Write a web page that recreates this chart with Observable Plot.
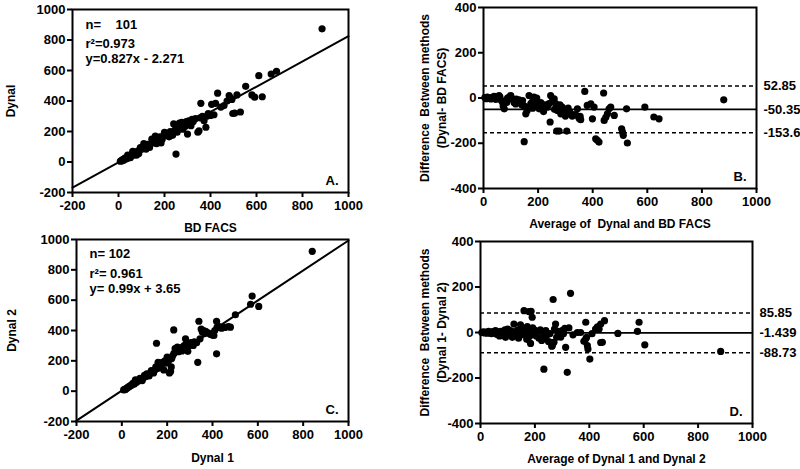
<!DOCTYPE html>
<html><head><meta charset="utf-8">
<script src="https://cdn.jsdelivr.net/npm/d3@7"></script>
<script src="https://cdn.jsdelivr.net/npm/@observablehq/plot@0.6"></script>
<style>
body{margin:0;background:#fff;}
#chart{position:relative;width:800px;height:469px;overflow:hidden;background:#fff;}
#chart svg{position:absolute;overflow:visible;}
</style></head><body><div id="chart"></div>
<script>
// ---------- tick values ----------
const ticksScatter = [-200, 0, 200, 400, 600, 800, 1000];
const ticksAvg = [0, 200, 400, 600, 800, 1000];
const ticksDiff = [-400, -200, 0, 200, 400];

// ---------- Panel A: BD FACS (x) vs Dynal (y) ----------
const pointsA = [
[8,5],[12,10],[15,8],[18,15],[22,12],[25,20],[28,25],[30,18],[33,28],[36,22],[40,45],[42,38],[45,35],[48,28],[52,30],[55,40],[58,50],[62,70],[65,45],[68,60],[72,58],[75,65],[78,45],[82,70],[85,62],[88,55],[92,80],[95,95],[98,90],[102,85],[105,100],[110,120],[115,105],[120,85],[125,115],[130,110],[135,95],[140,118],[145,150],[150,128],[155,145],[160,170],[165,120],[170,155],[175,160],[180,165],[185,125],[190,150],[195,170],[200,195],[205,190],[210,180],
[220,165],[225,200],[235,175],[240,250],[245,210],[250,52],[255,195],[260,230],[265,255],[270,240],[275,260],[280,215],[285,250],[290,235],[295,265],[300,183],[305,270],[310,250],[315,238],[320,280],[325,265],[335,285],[345,195],[350,205],[355,290],[358,385],[365,300],[372,270],[380,228],[385,300],[390,318],[400,305],[405,378],[415,310],[422,385],[431,451],[445,360],[459,370],[472,400],[481,436],[487,420],[493,410],[497,318],[505,320],[515,440],[530,328],[553,496],[580,440],[592,425],[610,566],[625,428],[664,577],[687,595],[885,873]
];
const fitA = {slope: 0.827, intercept: -2.271};
const statsA = ["n=\u00a0\u00a0\u00a0 101", "r\u00b2=0.973", "y=0.827x - 2.271"];

// ---------- Panel B: Bland-Altman Dynal vs BD FACS ----------
const pointsB = [
[5,2],[10,-3],[14,4],[18,-2],[22,0],[27,-4],[32,3],[39,7],[45,-6],[50,2],[57,11],[60,5],[63,-8],[68,-15],[72,-35],[76,-48],[82,-14],[85,-20],[88,0],[95,5],[100,11],[106,-4],[112,-20],[118,-26],[120,-5],[124,-12],[130,-8],[137,-22],[140,-30],[143,-11],[148,-35],[149,-193],[155,-40],[155,-70],[160,-55],[167,11],[173,-26],[178,-18],[180,-45],[185,4],[190,-10],[195,0],[198,-26],[204,-48],[210,-20],[216,-40],[220,-60],[225,-30],[234,-40],[240,-25],[244,-106],[246,11],[252,-15],[259,-4],[260,-50],[265,-26],[268,-146],[271,-55],[277,-146],[280,-30],[283,-70],[288,-40],[290,-65],[295,-55],[300,-80],[305,-146],[308,-70],[310,-45],[315,-60],[320,-70],[325,-80],[330,-75],[338,-75],[344,-48],[350,-90],[354,-81],[356,-96],[371,29],[380,-33],[393,-26],[399,-92],[405,-40],[411,-180],[417,-187],[423,-195],[440,22],[442,-99],[448,-85],[454,-70],[460,-48],[466,-40],[479,-77],[506,-136],[509,-150],[512,-165],[524,-48],[527,-199],[591,-40],[624,-84],[643,-92],[880,-8]
];
const biasB = [-50.35];
const limitsB = [52.85, -153.6];
const limitLabelsB = ["52.85", "-50.35", "-153.6"];
const limitValuesB = [52.85, -50.35, -153.6];

// ---------- Panel C: Dynal 1 (x) vs Dynal 2 (y) ----------
const pointsC = [
[8,8],[12,12],[15,10],[20,18],[25,22],[28,26],[32,30],[36,34],[40,38],[45,42],[48,50],[52,55],[55,48],[60,75],[65,58],[70,72],[75,68],[80,85],[85,80],[90,70],[95,88],[100,105],[105,95],[110,115],[115,108],[120,100],[125,118],[130,135],[135,128],[140,120],[145,140],[150,160],[153,316],[155,148],[160,190],[165,155],[170,185],[175,175],[180,190],[185,140],[190,200],[195,185],[200,225],[205,195],[210,120],[215,130],[218,160],[220,215],[225,235],[229,404],[230,250],[235,280],[240,270],[245,290],[250,260],[255,275],[260,285],[265,265],[270,290],[275,300],[281,345],[285,310],[291,263],[295,300],[300,305],[305,320],[310,315],[315,301],[320,325],[330,320],[335,190],[340,461],[345,345],[350,410],[355,390],[360,400],[365,380],[370,395],[380,385],[390,375],[400,370],[406,367],[410,400],[418,461],[418,246],[420,420],[430,425],[440,415],[455,420],[470,425],[479,422],[501,504],[568,573],[575,627],[604,559],[840,922]
];
const fitC = {slope: 0.99, intercept: 3.65};
const statsC = ["n= 102", "r\u00b2= 0.961", "y= 0.99x + 3.65"];

// ---------- Panel D: Bland-Altman Dynal 1 vs Dynal 2 ----------
const pointsD = [
[5,0],[10,3],[15,-2],[20,2],[25,-3],[30,5],[35,0],[40,-5],[45,4],[50,-2],[55,8],[60,-8],[65,3],[70,-15],[75,5],[80,0],[85,-10],[90,12],[92,-21],[98,-7],[100,15],[105,-5],[110,8],[117,-21],[120,3],[123,37],[128,-12],[135,10],[140,-25],[147,34],[150,-5],[155,15],[160,96],[160,-10],[166,11],[170,-30],[172,26],[175,5],[178,92],[180,-18],[184,-48],[186,93],[190,67],[192,20],[195,-8],[200,10],[205,-15],[210,5],[215,-25],[220,12],[225,-35],[230,0],[233,-161],[235,-20],[240,8],[245,-10],[250,-40],[255,-5],[258,-43],[262,-60],[264,-58],[267,145],[270,-43],[272,15],[276,37],[280,-21],[285,5],[290,-10],[295,-20],[300,8],[305,-5],[310,18],[313,-65],[319,-175],[325,20],[331,172],[340,-10],[356,0],[368,0],[380,-39],[387,45],[387,-28],[390,-21],[393,-58],[395,-73],[402,-117],[410,-5],[423,15],[430,25],[436,15],[442,37],[442,-44],[448,-43],[456,52],[505,-4],[577,5],[583,45],[604,-54],[883,-83]
];
const biasD = [-1.439];
const limitsD = [85.85, -88.73];
const limitLabelsD = ["85.85", "-1.439", "-88.73"];
const limitValuesD = [85.85, -1.439, -88.73];

// ---------- drawing ----------
const FONT = '"Liberation Sans", Arial, Helvetica, sans-serif';
const chart = document.getElementById("chart");
const toObj = arr => arr.map(([x, y]) => ({x, y}));

function panel(cfg) {
  const marks = [];
  if (cfg.fit) {
    const fitPts = cfg.xDomain.map(x => ({x, y: cfg.fit.slope * x + cfg.fit.intercept}));
    marks.push(Plot.line(fitPts, {x: "x", y: "y", stroke: "black", strokeWidth: 2}));
  }
  if (cfg.bias) {
    marks.push(Plot.ruleY(cfg.limits, {stroke: "black", strokeWidth: 1.6, strokeDasharray: "4,3"}));
    marks.push(Plot.ruleY(cfg.bias, {stroke: "black", strokeWidth: 1.8}));
    marks.push(Plot.text(cfg.limitValues, {y: d => d, frameAnchor: "right", textAnchor: "start", dx: 7,
      text: (d, i) => cfg.limitLabels[i], fontSize: 13, fontWeight: "bold", fill: "black"}));
  }
  marks.push(Plot.dot(toObj(cfg.points), {x: "x", y: "y", r: 3.6, fill: "black", stroke: "none"}));
  marks.push(Plot.frame({stroke: "black", strokeWidth: 2}));
  marks.push(Plot.axisX({ticks: cfg.xTicks, tickSize: 5, tickPadding: 3, strokeWidth: 2, label: null,
    tickFormat: d => String(d), fontSize: 13, fontWeight: "bold"}));
  marks.push(Plot.axisY({ticks: cfg.yTicks, tickSize: 5, tickPadding: 2, strokeWidth: 2, label: null,
    tickFormat: d => String(d), fontSize: 13, fontWeight: "bold"}));
  marks.push(Plot.text([cfg.xLabel], {text: d => d, frameAnchor: "bottom", dy: cfg.xLabelDy, lineAnchor: "middle",
    textAnchor: "middle", fontSize: 12, fontWeight: "bold", fill: "black"}));
  marks.push(Plot.text([cfg.yLabel], {text: d => d, frameAnchor: "left", dx: cfg.yLabelDx, rotate: -90,
    textAnchor: "middle", lineAnchor: "middle", lineHeight: 1.4, fontSize: 12, fontWeight: "bold", fill: "black"}));
  marks.push(Plot.text([cfg.letter], {text: d => d, frameAnchor: "bottom-right", dx: -10, dy: -12,
    textAnchor: "end", lineAnchor: "middle", fontSize: 13, fontWeight: "bold", fill: "black"}));
  if (cfg.stats) {
    cfg.stats.forEach((s, i) => {
      marks.push(Plot.text([s], {text: d => d, frameAnchor: "top-left", dx: 13, dy: cfg.statsDy[i],
        textAnchor: "start", lineAnchor: "middle", fontSize: 13, fontWeight: "bold", fill: "black"}));
    });
  }
  const svg = Plot.plot({
    width: cfg.width, height: cfg.height,
    marginLeft: cfg.m[3], marginTop: cfg.m[0], marginRight: cfg.m[1], marginBottom: cfg.m[2],
    x: {domain: cfg.xDomain},
    y: {domain: cfg.yDomain},
    style: {fontFamily: FONT, fontWeight: "bold", fontSize: "13px", color: "black", background: "transparent", overflow: "visible"},
    marks
  });
  svg.style.left = cfg.left + "px";
  svg.style.top = cfg.top + "px";
  chart.appendChild(svg);
}

panel({left: 0, top: 0, width: 400, height: 235, m: [9, 52, 43, 72],
  xDomain: [-200, 1000], yDomain: [-200, 1000], xTicks: ticksScatter, yTicks: ticksScatter,
  points: pointsA, fit: fitA, stats: statsA, statsDy: [15, 34, 49],
  xLabel: "BD FACS", xLabelDy: 36, yLabel: "Dynal", yLabelDx: -63, letter: "A."});

panel({left: 400, top: 0, width: 400, height: 235, m: [7, 44, 47, 83],
  xDomain: [0, 1000], yDomain: [-400, 400], xTicks: ticksAvg, yTicks: ticksDiff,
  points: pointsB, bias: biasB, limits: limitsB, limitLabels: limitLabelsB, limitValues: limitValuesB,
  xLabel: "Average of\u00a0 Dynal and BD FACS", xLabelDy: 36,
  yLabel: "Difference\u00a0 Between methods\n(Dynal- BD FACS)", yLabelDx: -51, letter: "B."});

panel({left: 0, top: 234, width: 400, height: 235, m: [5, 52, 48, 76],
  xDomain: [-200, 1000], yDomain: [-200, 1000], xTicks: ticksScatter, yTicks: ticksScatter,
  points: pointsC, fit: fitC, stats: statsC, statsDy: [14, 34, 49],
  xLabel: "Dynal 1", xLabelDy: 37, yLabel: "Dynal 2", yLabelDx: -66, letter: "C."});

panel({left: 400, top: 234, width: 400, height: 235, m: [7, 48, 46, 80],
  xDomain: [0, 1000], yDomain: [-400, 400], xTicks: ticksAvg, yTicks: ticksDiff,
  points: pointsD, bias: biasD, limits: limitsD, limitLabels: limitLabelsD, limitValues: limitValuesD,
  xLabel: "Average of Dynal 1 and Dynal 2", xLabelDy: 36,
  yLabel: "Difference\u00a0 Between methods\n(Dynal 1- Dynal 2)", yLabelDx: -48, letter: "D."});
</script>
</body></html>
